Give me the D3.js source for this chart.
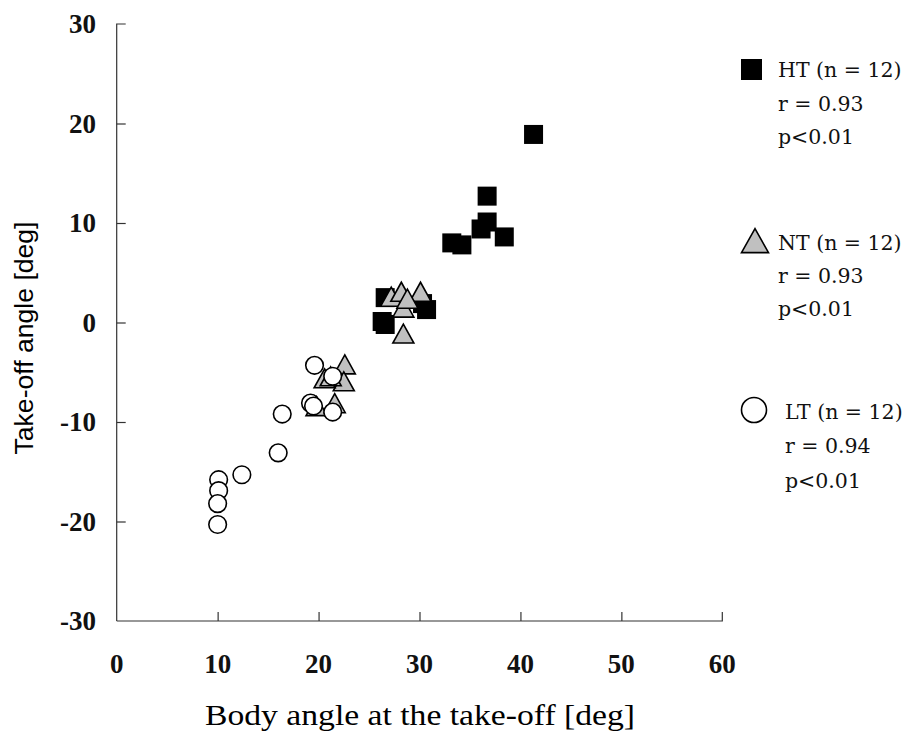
<!DOCTYPE html>
<html>
<head>
<meta charset="utf-8">
<script src="https://cdn.jsdelivr.net/npm/d3@7"></script>
<style>
  body { margin: 0; background: #fff; }
  svg { display: block; }
</style>
</head>
<body>
<div id="chart"></div>
<script>
// HT group (squares)
const htX = [41.3, 36.7, 36.7, 36.1, 38.4, 33.2, 34.2, 26.6, 30.7, 26.3, 26.6, 30.3]
const htY = [18.9, 12.7, 10.1, 9.4, 8.6, 8.0, 7.8, 2.5, 1.3, 0.1, -0.2, 1.9]
// NT group (triangles)
const ntX = [27.2, 28.2, 30.1, 28.4, 28.4, 22.6, 22.5, 20.6, 21.2, 19.8, 21.6, 28.8]
const ntY = [2.4, 2.9, 2.9, 1.3, -1.3, -4.4, -6.1, -5.8, -5.6, -8.6, -8.3, 2.2]
// LT group (circles)
const ltX = [19.6, 21.4, 19.2, 19.5, 21.4, 16.4, 16.0, 12.4, 10.1, 10.1, 10.0, 10.0]
const ltY = [-4.3, -5.4, -8.1, -8.4, -9.0, -9.2, -13.1, -15.3, -15.8, -16.9, -18.2, -20.3]

const xTicks = [0, 10, 20, 30, 40, 50, 60]
const yTicks = [-30, -20, -10, 0, 10, 20, 30]

const legendLines = [
    ["HT (n = 12)", "r = 0.93", "p<0.01"],
    ["NT (n = 12)", "r = 0.93", "p<0.01"],
    ["LT (n = 12)", "r = 0.94", "p<0.01"]
]

const W = 909, H = 736
const serif = "'Liberation Serif', 'Times New Roman', serif"
const serif2 = "'DejaVu Serif', serif"

let svg = d3.select("#chart").append("svg")
    .attr("width", W)
    .attr("height", H)

let x = d3.scaleLinear().domain([0, 60]).range([116.7, 722.3])
let y = d3.scaleLinear().domain([-30, 30]).range([621, 24])

// axes with inward ticks
let xAxis = d3.axisBottom(x).tickValues(xTicks).tickSize(-9).tickFormat("")
let yAxis = d3.axisLeft(y).tickValues(yTicks).tickSize(-9).tickFormat("")

let gx = svg.append("g").attr("transform", `translate(0,${y(-30)})`).call(xAxis)
let gy = svg.append("g").attr("transform", `translate(${x(0)},0)`).call(yAxis)
gx.select(".domain").attr("d", `M${x(0)},0H${x(60)}V-9`)
gy.select(".domain").attr("d", `M9,${y(30)}H0V${y(-30)}`)
svg.selectAll(".domain, .tick line").attr("stroke", "#333").attr("stroke-width", 1.2)
gy.selectAll(".tick").filter(d => d == 30 || d == -30).select("line").remove()
gx.selectAll(".tick").filter(d => d == 0 || d == 60).select("line").remove()

// tick labels
svg.append("g").selectAll("text")
    .data(xTicks)
    .join("text")
    .attr("x", d => x(d))
    .attr("y", 673)
    .attr("text-anchor", "middle")
    .attr("font-family", serif)
    .attr("font-size", 27)
    .attr("font-weight", "bold")
    .attr("fill", "#111")
    .text(d => d)

svg.append("g").selectAll("text")
    .data(yTicks)
    .join("text")
    .attr("x", 96)
    .attr("y", d => y(d) + 9)
    .attr("text-anchor", "end")
    .attr("font-family", serif)
    .attr("font-size", 27)
    .attr("font-weight", "bold")
    .attr("fill", "#111")
    .text(d => d)

// axis titles
svg.append("text")
    .attr("x", 420)
    .attr("y", 725)
    .attr("text-anchor", "middle")
    .attr("font-family", serif)
    .attr("font-size", 29)
    .attr("textLength", 430)
    .attr("lengthAdjust", "spacingAndGlyphs")
    .text("Body angle at the take-off [deg]")

svg.append("text")
    .attr("transform", "translate(33,338) rotate(-90)")
    .attr("text-anchor", "middle")
    .attr("font-family", "'Liberation Sans', Arial, sans-serif")
    .attr("font-size", 25)
    .attr("textLength", 233)
    .attr("lengthAdjust", "spacingAndGlyphs")
    .text("Take-off angle [deg]")

// marker shapes
function trianglePath(cx, cy, w, h){
    return `M${cx},${cy - h * 0.6}L${cx + w / 2},${cy + h * 0.4}L${cx - w / 2},${cy + h * 0.4}Z`
}

let ht = d3.zip(htX, htY)
let nt = d3.zip(ntX, ntY)
let lt = d3.zip(ltX, ltY)

svg.append("g").selectAll("rect")
    .data(ht)
    .join("rect")
    .attr("x", d => x(d[0]) - 9.5)
    .attr("y", d => y(d[1]) - 9.5)
    .attr("width", 19)
    .attr("height", 19)
    .attr("fill", "#000")

svg.append("g").selectAll("path")
    .data(nt)
    .join("path")
    .attr("d", d => trianglePath(x(d[0]), y(d[1]), 21, 19))
    .attr("fill", "#c0c0c0")
    .attr("stroke", "#000")
    .attr("stroke-width", 1.6)
    .attr("stroke-linejoin", "miter")

svg.append("g").selectAll("circle")
    .data(lt)
    .join("circle")
    .attr("cx", d => x(d[0]))
    .attr("cy", d => y(d[1]))
    .attr("r", 8.8)
    .attr("fill", "#fff")
    .attr("stroke", "#000")
    .attr("stroke-width", 1.6)

// legend
svg.append("rect")
    .attr("x", 741).attr("y", 59)
    .attr("width", 21).attr("height", 21)
    .attr("fill", "#000")
svg.append("path")
    .attr("d", trianglePath(755, 243, 27, 24))
    .attr("fill", "#c0c0c0")
    .attr("stroke", "#000")
    .attr("stroke-width", 1.6)
svg.append("circle")
    .attr("cx", 754).attr("cy", 410).attr("r", 12.5)
    .attr("fill", "#fff")
    .attr("stroke", "#000")
    .attr("stroke-width", 1.6)

const legendPos = [[778, [70, 104, 137]], [778, [243, 276, 309]], [785, [412, 446, 481]]]
legendLines.forEach((lines, i) => {
    let [lx, ys] = legendPos[i]
    lines.forEach((t, j) => {
        svg.append("text")
            .attr("x", lx)
            .attr("y", ys[j] + 7)
            .attr("font-family", serif2)
            .attr("font-size", 20.5)
            .attr("fill", "#111")
            .text(t)
    })
})
</script>
</body>
</html>
